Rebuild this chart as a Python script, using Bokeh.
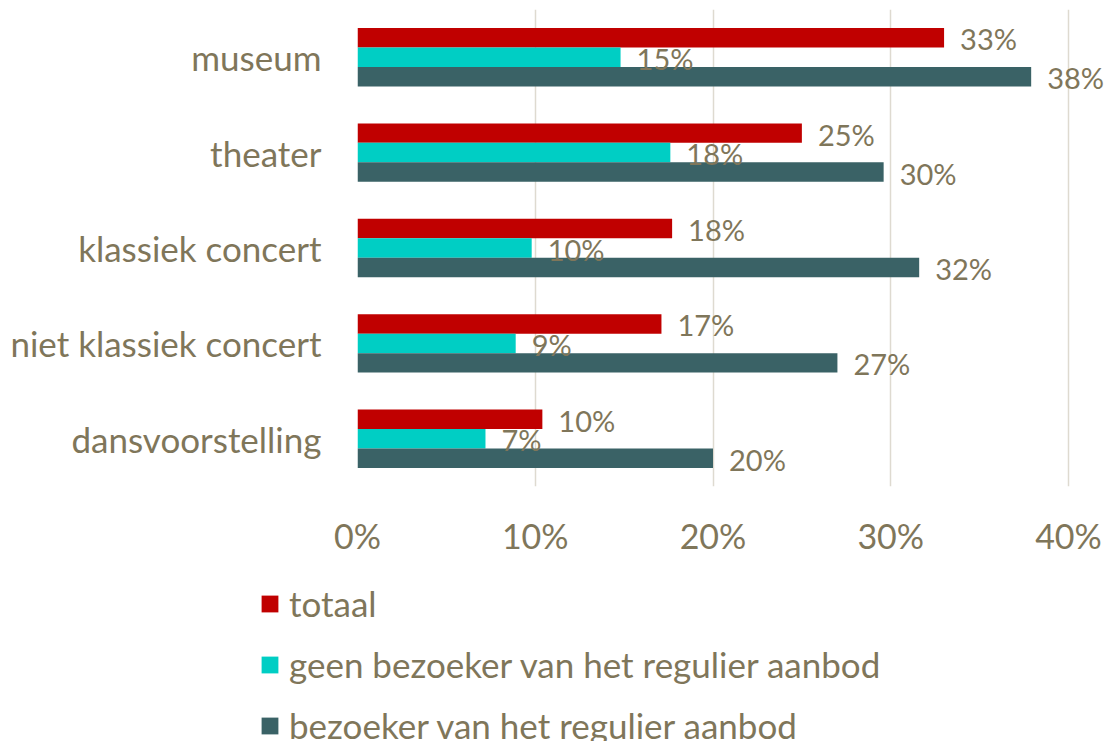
from bokeh.plotting import figure
from bokeh.layouts import column
from bokeh.models import FactorRange, Range1d, FixedTicker, Legend, LegendItem, ColumnDataSource
from bokeh.transform import dodge
from bokeh.core.properties import value
from bokeh.embed import file_html
from bokeh.resources import INLINE

categories = ["museum", "theater", "klassiek concert", "niet klassiek concert", "dansvoorstelling"]
series_names = ["totaal", "geen bezoeker van het regulier aanbod", "bezoeker van het regulier aanbod"]
totaal = [33.0, 25.0, 17.7, 17.1, 10.4]
geen_bezoeker = [14.8, 17.6, 9.8, 8.9, 7.2]
bezoeker = [37.9, 29.6, 31.6, 27.0, 20.0]
x_ticks = [0, 10, 20, 30, 40]
tick_labels = ["0%", "10%", "20%", "30%", "40%"]
colors = ["#C00000", "#00CEC4", "#3A6266"]

TEXT = "#7F765A"
FONT = "Lato"
W = 1104
H2 = 181

p = figure(width=W, height=560, output_backend="svg", toolbar_location=None,
           y_range=FactorRange(factors=categories[::-1]),
           x_range=Range1d(0, 40 * (W - 357) / 711),
           min_border_left=357, min_border_right=0, min_border_top=9, min_border_bottom=74)
p.outline_line_color = None
p.frame_align = False

bar_h = 0.204
offsets = [bar_h, 0.0, -bar_h]
for name, vals, col, off in zip(series_names, [totaal, geen_bezoeker, bezoeker], colors, offsets):
    src = ColumnDataSource(dict(cat=categories, val=vals, lab=[f"{round(v)}%" for v in vals]))
    p.hbar(y=dodge("cat", off, range=p.y_range), right="val", left=0, height=bar_h,
           source=src, fill_color=col, line_color=None)
    t = p.text(x="val", y=dodge("cat", off, range=p.y_range), text="lab", source=src,
               x_offset=16, y_offset=1, text_baseline="middle", text_align="left",
               text_font=value(FONT), text_font_size="29px", text_color=TEXT)
    t.level = "overlay"

p.xgrid.ticker = FixedTicker(ticks=x_ticks)
p.xgrid.grid_line_color = "#DEDAD0"
p.xgrid.grid_line_width = 1.5
p.ygrid.visible = False

xa = p.xaxis[0]
xa.ticker = FixedTicker(ticks=x_ticks)
xa.major_label_overrides = {t: l for t, l in zip(x_ticks, tick_labels)}
xa.axis_line_color = None
xa.major_tick_line_color = None
xa.minor_tick_line_color = None
xa.major_label_text_font = FONT
xa.major_label_text_font_size = "34px"
xa.major_label_text_color = TEXT
xa.major_label_standoff = 22

ya = p.yaxis[0]
ya.axis_line_color = None
ya.major_tick_line_color = None
ya.minor_tick_line_color = None
ya.major_label_text_font = FONT
ya.major_label_text_font_size = "35px"
ya.major_label_text_color = TEXT
ya.major_label_standoff = 30

# legend figure below the chart
p2 = figure(width=W, height=H2, output_backend="svg", toolbar_location=None,
            x_range=Range1d(0, W), y_range=Range1d(0, H2),
            min_border_left=0, min_border_right=0, min_border_top=0, min_border_bottom=0)
p2.frame_align = False
p2.axis.visible = False
p2.grid.visible = False
p2.outline_line_color = None
items = []
for name, col in zip(series_names, colors):
    # legend swatch renderer (kept outside the visible area)
    r = p2.hbar(y=[-100], right=[1], left=0, height=1, fill_color=col, line_color=None)
    items.append(LegendItem(label=name, renderers=[r]))
legend = Legend(items=items, location=(259, -5), orientation="vertical",
                label_text_font=FONT, label_text_font_size="35px", label_text_color=TEXT,
                glyph_width=21, glyph_height=21, label_standoff=9, spacing=19,
                label_height=35, padding=0, margin=0, border_line_color=None,
                background_fill_alpha=0)
p2.add_layout(legend, "center")

layout = column(p, p2, spacing=0)
open("out.html", "w").write(file_html(layout, INLINE))
